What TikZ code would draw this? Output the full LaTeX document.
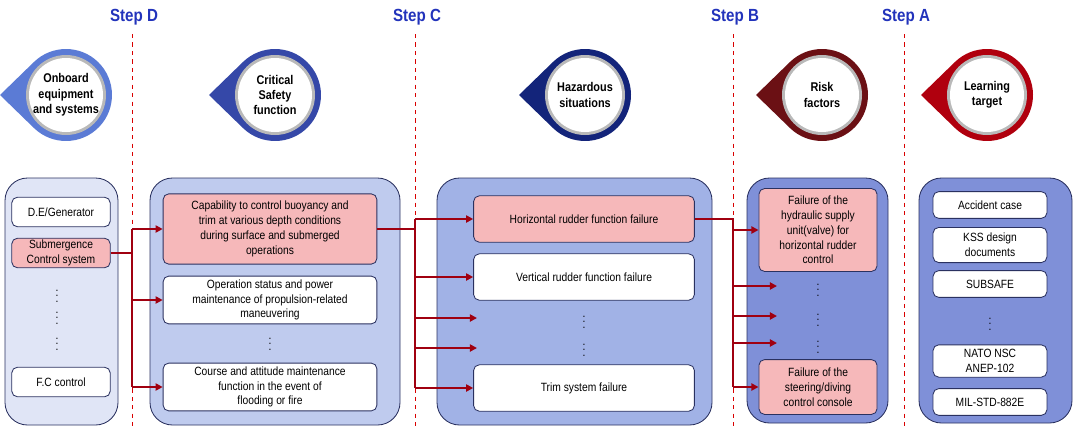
\documentclass[tikz,border=0pt]{standalone}
\usepackage{fontspec}
\setmainfont{Liberation Sans}[FakeStretch=0.86]
\usetikzlibrary{arrows.meta,positioning,calc}
\definecolor{stepblue}{HTML}{2233BB}
\definecolor{arrred}{HTML}{A00010}
\definecolor{pinkbox}{HTML}{F6B8BA}
\definecolor{boxline}{HTML}{2A3160}
\definecolor{panelA}{HTML}{E0E5F6}
\definecolor{panelB}{HTML}{BFCBEE}
\definecolor{panelC}{HTML}{A1B2E6}
\definecolor{panelD}{HTML}{7F90D8}
\definecolor{dropA}{HTML}{5B7BD5}
\definecolor{dropB}{HTML}{3548A8}
\definecolor{dropC}{HTML}{13247A}
\definecolor{dropD}{HTML}{6B1014}
\definecolor{dropE}{HTML}{B0000E}
\begin{document}
\begin{tikzpicture}[x=0.025cm,y=-0.025cm,
  panel/.style={draw=boxline,rounded corners=16pt,line width=0.6pt},
  item/.style={draw=boxline,fill=white,rounded corners=4pt,line width=0.6pt,
    align=center,font=\fontsize{8.5}{10.5}\selectfont,inner sep=1pt},
  hot item/.style={item,fill=pinkbox},
  vdots/.style={font=\fontsize{8.5}{10}\selectfont},
  step label/.style={font=\fontsize{12.5}{14}\selectfont\bfseries,text=stepblue},
  step line/.style={draw=red!85!black,dashed,line width=0.7pt},
  flow/.style={draw=arrred,line width=1.4pt},
  flow arrow/.style={flow,-{Triangle[length=5pt,width=5pt]}}]

\useasboundingbox (0,0) rectangle (1077,428);

% step lines and labels
\foreach \x/\lab in {132/D,415/C,733/B,904/A}{
  \draw[step line] (\x,34) -- (\x,428);
  \node[step label,anchor=south] (step\lab) at (\x+2,30) {Step \lab};
}

% badges
\foreach \cx/\col/\nm/\txt in {66/dropA/onboard/{Onboard\\equipment\\and systems},
    275/dropB/critical/{Critical\\Safety\\function},
    585/dropC/hazard/{Hazardous\\situations},
    822/dropD/risk/{Risk\\factors},
    987/dropE/learn/{Learning\\target}}{
  \fill[\col] (\cx-66,95) -- ($(\cx,95)+(134:46)$) arc[start angle=134,end angle=-134,radius=46] -- cycle;
  \fill[gray!55] (\cx,95) circle[radius=40];
  \fill[white] (\cx,95) circle[radius=37];
  \node[align=center,font=\fontsize{9}{11}\selectfont\bfseries] (\nm) at (\cx,95) {\txt};
}

% panels
\draw[panel,fill=panelA] (5,178) rectangle (118,425);
\draw[panel,fill=panelB] (150,178) rectangle (400,425);
\draw[panel,fill=panelC] (437,178) rectangle (712,425);
\draw[panel,fill=panelD] (747,178) rectangle (888,423);
\draw[panel,fill=panelD] (919,178) rectangle (1072,423);

% onboard equipment
\node[item,minimum width=70pt,minimum height=21pt] (dgen) at (61,212) {D.E/Generator};
\node[hot item,minimum width=70pt,minimum height=21pt] (sub) at (61,253) {Submergence\\Control system};
\node[item,minimum width=70pt,minimum height=21pt] (fc) at (61,382) {F.C control};
\foreach \y in {292,314,340} \node[vdots] at (57,\y) {\vdots};

% critical safety functions
\node[hot item,minimum width=152pt,minimum height=50pt] (csf1) at (270,229)
  {Capability to control buoyancy and\\trim at various depth conditions\\during surface and submerged\\operations};
\node[item,minimum width=152pt,minimum height=34pt] (csf2) at (270,300)
  {Operation status and power\\maintenance of propulsion-related\\maneuvering};
\node[vdots] at (270,340) {\vdots};
\node[item,minimum width=152pt,minimum height=34pt] (csf3) at (270,387)
  {Course and attitude maintenance\\function in the event of\\flooding or fire};

% hazardous situations
\node[hot item,minimum width=157pt,minimum height=33pt] (hz1) at (584,219) {Horizontal rudder function failure};
\node[item,minimum width=157pt,minimum height=33pt] (hz2) at (584,277) {Vertical rudder function failure};
\node[vdots] at (584,318) {\vdots};
\node[vdots] at (584,346) {\vdots};
\node[item,minimum width=157pt,minimum height=33pt] (hz3) at (584,388) {Trim system failure};
\coordinate (hzd1) at (477,318);
\coordinate (hzd2) at (477,348);

% risk factors
\node[hot item,minimum width=84pt,minimum height=59pt] (rf1) at (818,230)
  {Failure of the\\hydraulic supply\\unit(valve) for\\horizontal rudder\\control};
\foreach \y/\n in {286/1,316/2,343/3}{
  \node[vdots] (rfd\n) at (818,\y) {\vdots};
  \coordinate (rfa\n) at (777,\y);
}
\node[hot item,minimum width=84pt,minimum height=39pt] (rf2) at (818,387)
  {Failure of the\\steering/diving\\control console};

% learning targets
\node[item,minimum width=81pt,minimum height=19pt] (lt1) at (990,205) {Accident case};
\node[item,minimum width=81pt,minimum height=25pt] (lt2) at (990,245) {KSS design\\documents};
\node[item,minimum width=81pt,minimum height=19pt] (lt3) at (990,284) {SUBSAFE};
\node[vdots] at (990,320) {\vdots};
\node[item,minimum width=81pt,minimum height=23pt] (lt4) at (990,361) {NATO NSC\\ANEP-102};
\node[item,minimum width=81pt,minimum height=19pt] (lt5) at (990,402) {MIL-STD-882E};

% connectors
\coordinate (jd) at (132,253);
\draw[flow] (sub.east) -- (jd);
\draw[flow] (132,229) -- (132,387);
\draw[flow arrow] (132,229) -- (csf1.west);
\draw[flow arrow] (132,300) -- (csf2.west);
\draw[flow arrow] (132,387) -- (csf3.west);

\draw[flow] (csf1.east) -- (415,229);
\draw[flow] (415,219) -- (415,388);
\draw[flow arrow] (415,219) -- (hz1.west);
\draw[flow arrow] (415,277) -- (hz2.west);
\draw[flow arrow] (415,318) -- (hzd1);
\draw[flow arrow] (415,348) -- (hzd2);
\draw[flow arrow] (415,388) -- (hz3.west);

\draw[flow] (hz1.east) -- (733,219) -- (733,387);
\draw[flow arrow] (733,230) -- (rf1.west);
\draw[flow arrow] (733,286) -- (rfa1);
\draw[flow arrow] (733,316) -- (rfa2);
\draw[flow arrow] (733,343) -- (rfa3);
\draw[flow arrow] (733,387) -- (rf2.west);
\end{tikzpicture}
\end{document}
